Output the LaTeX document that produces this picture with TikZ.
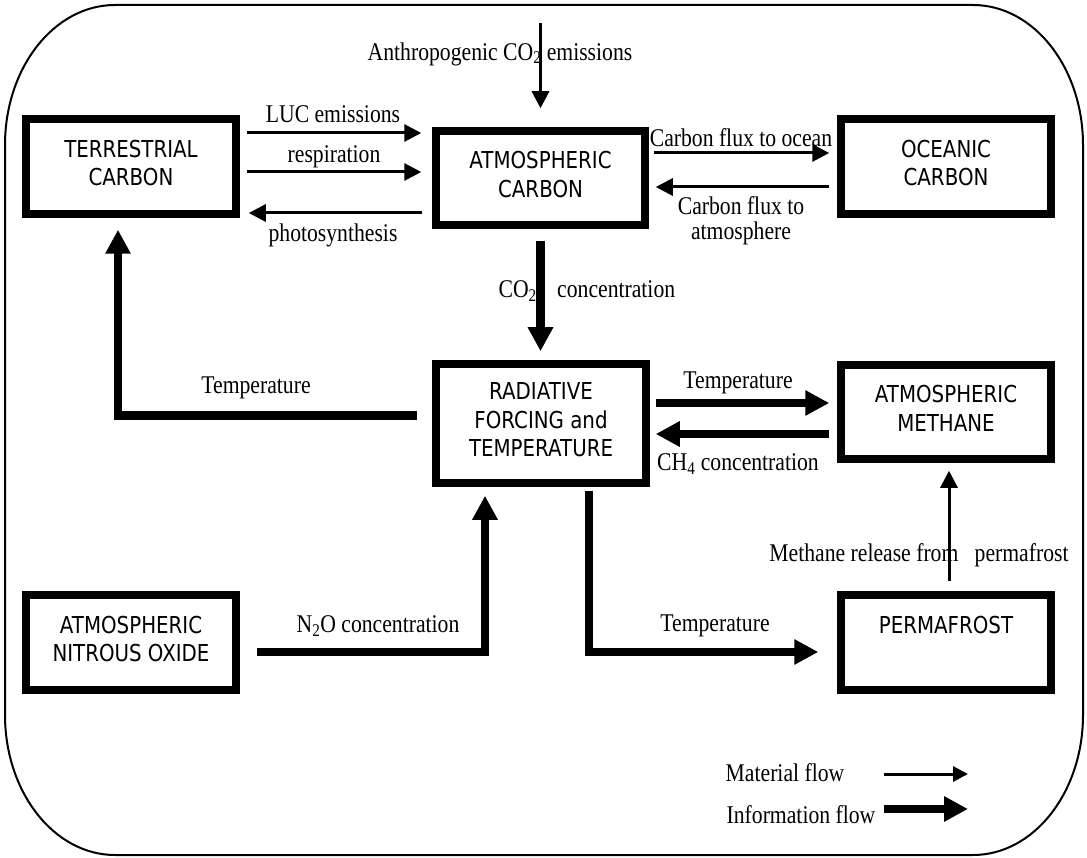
\documentclass[tikz,border=0pt]{standalone}
\usepackage{fontspec}
\setmainfont{Liberation Serif}[FakeStretch=0.85]
\newfontfamily\boxfont{DejaVu Sans}[FakeStretch=0.85]
\usetikzlibrary{arrows.meta,calc}
\begin{document}
\begin{tikzpicture}[x=1pt,y=-1pt,
  box/.style={draw, line width=7.5pt, minimum width=210pt, minimum height=95pt, inner sep=0pt, align=center,
    font=\boxfont\fontsize{23.3}{28.5}\selectfont},
  lbl/.style={inner sep=0pt, align=center, font=\fontsize{25.5}{25}\selectfont},
  mflow/.style={line width=3pt, -{Triangle[length=17pt,width=17pt]}},
  iflow/.style={line width=8.5pt, -{Triangle[length=24pt,width=24pt]}}]
\useasboundingbox (0,0) rectangle (1087,858);
\draw[line width=2pt] (115,5) -- (973,5) .. controls (1033.8,5) and (1083,67.7) .. (1083,145)
  -- (1083,715) .. controls (1083,792.3) and (1033.8,855) .. (973,855)
  -- (115,855) .. controls (54.2,855) and (5,792.3) .. (5,715)
  -- (5,145) .. controls (5,67.7) and (54.2,5) .. (115,5) -- cycle;
% boxes
\node[box] (terr) at (131,166.5) {TERRESTRIAL\\CARBON\\[-21pt]\mbox{}};
\node[box, minimum width=209pt, minimum height=94pt] (atmc) at (540.5,178) {ATMOSPHERIC\\CARBON\\[-21pt]\mbox{}};
\node[box] (ocean) at (946,166.5) {OCEANIC\\CARBON\\[-21pt]\mbox{}};
\node[box, minimum height=119pt] (rad) at (541,423.5) {RADIATIVE\\FORCING and\\TEMPERATURE\\[-21pt]\mbox{}};
\node[box, minimum height=94pt] (meth) at (946,412) {ATMOSPHERIC\\METHANE\\[-21pt]\mbox{}};
\node[box] (nitro) at (131,642.5) {ATMOSPHERIC\\NITROUS OXIDE\\[-21pt]\mbox{}};
\node[box] (perma) at (946,642.5) {PERMAFROST\\\mbox{}\\[-21pt]\mbox{}};
% labels
\node[lbl] (tAnth) at (500,54) {Anthropogenic CO\textsubscript{2} emissions};
\node[lbl] (tLUC) at (333,114) {LUC emissions};
\node[lbl] (tResp) at (334,157) {respiration};
\node[lbl] (tPhoto) at (333,235) {photosynthesis};
\node[lbl] (tOcean) at (741,138) {Carbon flux to ocean};
\node[lbl] (tAtm) at (741,221) {Carbon flux to\\atmosphere};
\node[lbl, anchor=base east] (tCO) at (537,298) {CO\textsubscript{2}};
\node[lbl, anchor=base west] (tConc) at (557,298) {concentration};
\node[lbl] (tTempL) at (256,388) {Temperature};
\node[lbl] (tTempR) at (738,383) {Temperature};
\node[lbl] (tCH) at (738,464) {CH\textsubscript{4} concentration};
\node[lbl] (tNO) at (378,626) {N\textsubscript{2}O concentration};
\node[lbl] (tTempB) at (715,626) {Temperature};
\node[lbl] (tMeth) at (919,555) {Methane release from~~~permafrost};
\node[lbl] (tMat) at (785,773) {Material flow};
\node[lbl] (tInf) at (801,815) {Information flow};
% connectors
\coordinate (anthS) at (540.5,23);
\draw[mflow] (anthS) -- ($(atmc.north)+(0,-19)$);
\draw[mflow] ($(terr.east)+(7,-33.5)$) -- ($(atmc.west)+(-11,-45)$);
\draw[mflow] ($(terr.east)+(7,5.5)$) -- ($(atmc.west)+(-11,-6)$);
\draw[mflow] ($(atmc.west)+(-10,35)$) -- ($(terr.east)+(9,46.5)$);
\draw[mflow] ($(atmc.east)+(5,-25)$) -- ($(ocean.west)+(-8,-13.5)$);
\draw[mflow] ($(ocean.west)+(-8,20.5)$) -- ($(atmc.east)+(7,9)$);
\draw[iflow] ($(atmc.south)+(0,12)$) -- ($(rad.north)+(-0.5,-9)$);
\draw[iflow] ($(rad.west)+(-15,-8)$) -| ($(terr.south)+(-13,12)$);
\draw[iflow] ($(rad.east)+(6,-20.5)$) -- ($(meth.west)+(-8,-9)$);
\draw[iflow] ($(meth.west)+(-8,22)$) -- ($(rad.east)+(6,10.5)$);
\draw[iflow] ($(nitro.east)+(17,9.5)$) -| ($(rad.south)+(-56,9)$);
\draw[iflow] ($(rad.south)+(48,4)$) |- ($(perma.west)+(-19,9.5)$);
\draw[mflow] ($(perma.north)+(3,-10)$) -- ($(meth.south)+(3,8)$);
% legend
\coordinate (m1) at (884,774); \coordinate (m2) at (968,774);
\draw[line width=3pt, -{Triangle[length=15pt,width=15pt]}] (m1) -- (m2);
\coordinate (i1) at (884,809); \coordinate (i2) at (968,809);
\draw[iflow] (i1) -- (i2);
\end{tikzpicture}
\end{document}
